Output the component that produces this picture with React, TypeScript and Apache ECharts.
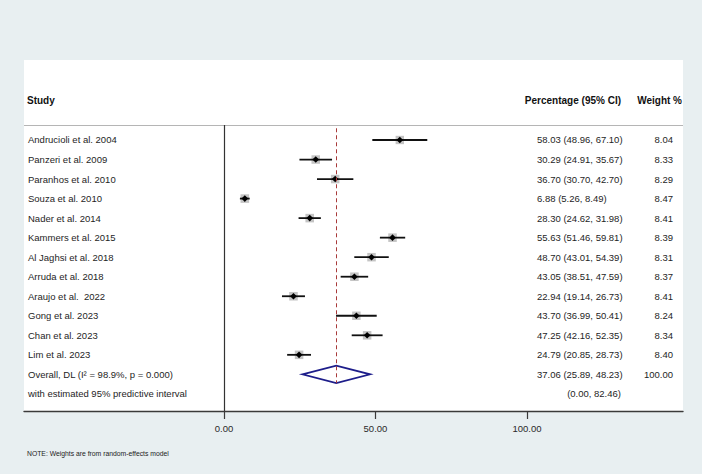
import React, { useEffect, useRef } from "react";
import * as echarts from "echarts";

const studies = [
  "Andrucioli et al. 2004",
  "Panzeri et al. 2009",
  "Paranhos et al. 2010",
  "Souza et al. 2010",
  "Nader et al. 2014",
  "Kammers et al. 2015",
  "Al Jaghsi et al. 2018",
  "Arruda et al. 2018",
  "Araujo et al.  2022",
  "Gong et al. 2023",
  "Chan et al. 2023",
  "Lim et al. 2023",
];
const estimates = [58.03, 30.29, 36.7, 6.88, 28.3, 55.63, 48.7, 43.05, 22.94, 43.7, 47.25, 24.79];
const lower = [48.96, 24.91, 30.7, 5.26, 24.62, 51.46, 43.01, 38.51, 19.14, 36.99, 42.16, 20.85];
const upper = [67.1, 35.67, 42.7, 8.49, 31.98, 59.81, 54.39, 47.59, 26.73, 50.41, 52.35, 28.73];
const weights = [8.04, 8.33, 8.29, 8.47, 8.41, 8.39, 8.31, 8.37, 8.41, 8.24, 8.34, 8.4];

const overallLabel = "Overall, DL (I\u00B2 = 98.9%, p = 0.000)";
const overallValues = [37.06, 25.89, 48.23];
const overallWeight = 100.0;
const predictiveLabel = "with estimated 95% predictive interval";
const predictiveInterval = [0.0, 82.46];
const tickValues = [0, 50, 100];
const headers = ["Study", "Percentage (95% CI)", "Weight %"];
const note = "NOTE: Weights are from random-effects model";

const FONT = "'Liberation Sans', Arial, Helvetica, sans-serif";
const BG = "#e8eff1";

type Row = { kind: "study" | "overall" | "pred"; label: string; est: number; lo: number; hi: number; w: number };

export default function App() {
  const ref = useRef<HTMLDivElement>(null);

  useEffect(() => {
    if (!ref.current) return;
    const chart = echarts.init(ref.current, null, { renderer: "svg" });

    const rows: Row[] = studies.map((s, i) => ({
      kind: "study",
      label: s,
      est: estimates[i],
      lo: lower[i],
      hi: upper[i],
      w: weights[i],
    }));
    rows.push({ kind: "overall", label: overallLabel, est: overallValues[0], lo: overallValues[1], hi: overallValues[2], w: overallWeight });
    rows.push({ kind: "pred", label: predictiveLabel, est: NaN, lo: predictiveInterval[0], hi: predictiveInterval[1], w: NaN });

    const fmt = (v: number) => v.toFixed(2);
    const bodyText = (x: number, y: number, text: string, align: string) => ({
      type: "text",
      x,
      y,
      style: {
        text,
        fill: "#1e1e1e",
        fontSize: 9.5,
        fontFamily: FONT,
        align,
        verticalAlign: "middle",
      },
    });

    const renderItem = (params: any, api: any) => {
      const i = params.dataIndex;
      const r = rows[i];
      const y = api.coord([0, i])[1];
      const children: any[] = [];
      children.push(bodyText(28, y, r.label, "left"));
      if (r.kind === "study") {
        const pLo = api.coord([r.lo, i]);
        const pHi = api.coord([r.hi, i]);
        const pE = api.coord([r.est, i]);
        const s = 8.5 * Math.sqrt(r.w / 8.3);
        children.push({
          type: "rect",
          shape: { x: pE[0] - s / 2, y: pE[1] - s / 2, width: s, height: s },
          style: { fill: "#c4c4c4" },
        });
        children.push({
          type: "line",
          shape: { x1: pLo[0], y1: y, x2: pHi[0], y2: y },
          style: { stroke: "#111", lineWidth: 1.8 },
        });
        children.push({
          type: "polygon",
          shape: { points: [[pE[0] - 3.3, y], [pE[0], y - 3.3], [pE[0] + 3.3, y], [pE[0], y + 3.3]] },
          style: { fill: "#000" },
        });
        children.push(bodyText(537, y, `${fmt(r.est)} (${fmt(r.lo)}, ${fmt(r.hi)})`, "left"));
        children.push(bodyText(673, y, fmt(r.w), "right"));
      } else if (r.kind === "overall") {
        const pLo = api.coord([r.lo, i]);
        const pHi = api.coord([r.hi, i]);
        const top = api.coord([r.est, i - 0.45]);
        const bot = api.coord([r.est, i + 0.45]);
        children.push({
          type: "polygon",
          shape: { points: [[pLo[0], y], [top[0], top[1]], [pHi[0], y], [bot[0], bot[1]]] },
          style: { fill: "none", stroke: "#1d1d8a", lineWidth: 1.8 },
        });
        children.push(bodyText(537, y, `${fmt(r.est)} (${fmt(r.lo)}, ${fmt(r.hi)})`, "left"));
        children.push(bodyText(673, y, fmt(r.w), "right"));
      } else {
        children.push(bodyText(621, y, `(${fmt(r.lo)}, ${fmt(r.hi)})`, "right"));
      }
      return { type: "group", children };
    };

    const xMin = -66;
    const xMax = 151.5;
    const yMin = -4.096;
    const yMax = 13.876;
    const headerY = -0.768;
    const overallIdx = studies.length;

    chart.setOption({
      animation: false,
      backgroundColor: BG,
      grid: {
        left: 24,
        right: 19,
        top: 60,
        bottom: 63,
        show: true,
        backgroundColor: "#ffffff",
        borderWidth: 0,
      },
      xAxis: {
        type: "value",
        min: xMin,
        max: xMax,
        splitLine: { show: false },
        axisLine: { show: true, onZero: false, lineStyle: { color: "#3a3a3a", width: 1.4 } },
        axisTick: { show: true, customValues: tickValues, length: 8, lineStyle: { color: "#3a3a3a", width: 1.2 } },
        axisLabel: {
          customValues: tickValues,
          formatter: (v: number) => v.toFixed(2),
          fontSize: 9.5,
          fontFamily: FONT,
          color: "#2a2a2a",
          margin: 12,
        },
      },
      yAxis: {
        type: "value",
        inverse: true,
        min: yMin,
        max: yMax,
        show: false,
      },
      graphic: [
        { type: "text", left: 27, top: 95, style: { text: headers[0], fontSize: 10, fontWeight: "bold", fontFamily: FONT, fill: "#111" } },
        { type: "text", right: 702 - 621, top: 95, style: { text: headers[1], fontSize: 10, fontWeight: "bold", fontFamily: FONT, fill: "#111" } },
        { type: "text", right: 702 - 682, top: 95, style: { text: headers[2], fontSize: 10, fontWeight: "bold", fontFamily: FONT, fill: "#111" } },
        { type: "text", left: 27, top: 450, style: { text: note, fontSize: 6.8, fontFamily: FONT, fill: "#222" } },
      ],
      series: [
        {
          type: "custom",
          renderItem,
          clip: false,
          data: rows.map((r, i) => [isNaN(r.est) ? r.lo : r.est, i]),
          encode: { x: 0, y: 1 },
          z: 3,
          markLine: {
            silent: true,
            symbol: "none",
            label: { show: false },
            data: [
              [
                { coord: [xMin, headerY], lineStyle: { color: "#b5b5b5", width: 1, type: "solid" } },
                { coord: [xMax, headerY] },
              ],
              [
                { coord: [0, headerY], lineStyle: { color: "#333", width: 1.2, type: "solid" } },
                { coord: [0, yMax] },
              ],
              [
                { coord: [overallValues[0], -0.6], lineStyle: { color: "#a83a3a", width: 1, type: [4, 3] } },
                { coord: [overallValues[0], overallIdx + 0.45] },
              ],
            ],
          },
        },
      ],
    });

    return () => chart.dispose();
  }, []);

  return (
    <div
      ref={ref}
      style={{ position: "fixed", left: 0, top: 0, width: 702, height: 474, background: BG }}
    />
  );
}
